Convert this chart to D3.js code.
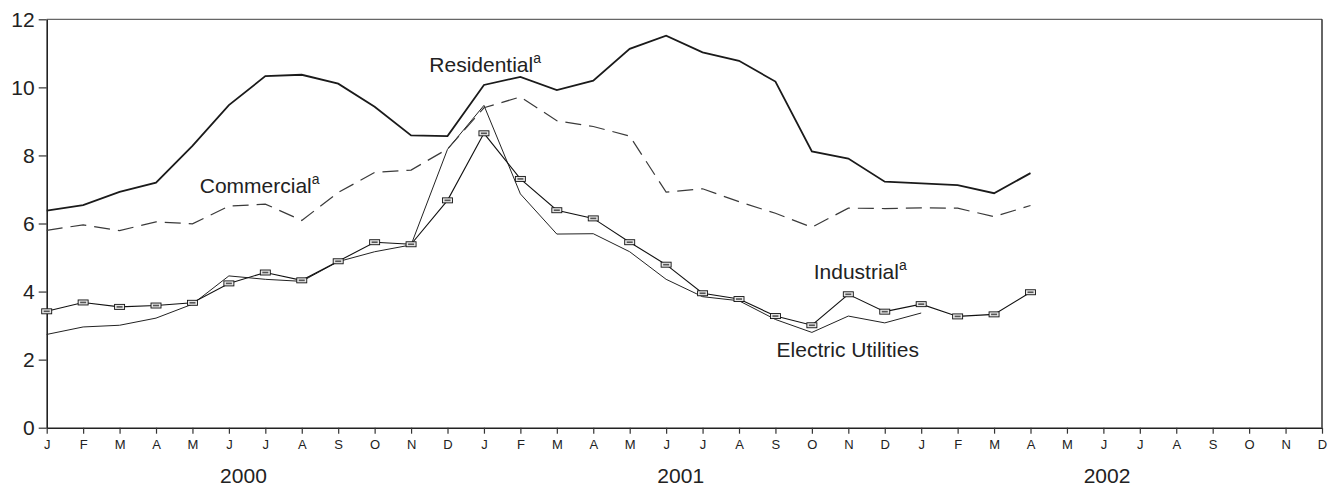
<!DOCTYPE html>
<html>
<head>
<meta charset="utf-8">
<script src="https://cdn.jsdelivr.net/npm/d3@7"></script>
<style>
  html, body { margin: 0; padding: 0; background: #fff; }
  svg { display: block; font-family: "Liberation Sans", Arial, Helvetica, sans-serif; }
</style>
</head>
<body>
<svg id="chart" width="1335" height="487"></svg>
<script>
// ---- data (month index 0 = Jan 2000) ----
const monthLabels = ["J","F","M","A","M","J","J","A","S","O","N","D",
                     "J","F","M","A","M","J","J","A","S","O","N","D",
                     "J","F","M","A","M","J","J","A","S","O","N","D"];
const yearLabels = ["2000", "2001", "2002"];
const yearPositions = [5.4, 17.4, 29.1];
const yTicks = [0, 2, 4, 6, 8, 10, 12];

const residential = [6.38, 6.54, 6.93, 7.20, 8.28, 9.48, 10.33, 10.37, 10.11, 9.43, 8.59, 8.57,
                     10.07, 10.31, 9.92, 10.20, 11.13, 11.52, 11.03, 10.78, 10.17, 8.12, 7.91, 7.23,
                     7.18, 7.13, 6.89, 7.48];
const commercial  = [5.80, 5.96, 5.79, 6.05, 5.99, 6.51, 6.57, 6.09, 6.91, 7.50, 7.57, 8.19,
                     9.40, 9.72, 9.02, 8.85, 8.57, 6.92, 7.02, 6.64, 6.30, 5.89, 6.45, 6.44,
                     6.46, 6.45, 6.20, 6.53];
const industrial  = [3.42, 3.68, 3.55, 3.59, 3.67, 4.24, 4.56, 4.33, 4.89, 5.45, 5.39, 6.68,
                     8.65, 7.31, 6.39, 6.15, 5.45, 4.79, 3.95, 3.78, 3.28, 3.01, 3.92, 3.41,
                     3.63, 3.27, 3.33, 3.98];
const electric    = [2.74, 2.96, 3.01, 3.22, 3.63, 4.46, 4.36, 4.30, 4.88, 5.17, 5.37, 8.18,
                     9.47, 6.87, 5.69, 5.70, 5.17, 4.36, 3.85, 3.73, 3.18, 2.80, 3.28, 3.08,
                     3.37];

const seriesLabels = [
  { name: "Residential", sup: "a", month: 10.5, value: 10.45 },
  { name: "Commercial", sup: "a", month: 4.2, value: 6.9 },
  { name: "Industrial", sup: "a", month: 21.05, value: 4.37 },
  { name: "Electric Utilities", sup: "", month: 20.03, value: 2.08 }
];

// ---- layout ----
const W = 1335, H = 487;
const margin = { top: 19.3, right: 13, bottom: 59.3, left: 46.7 };
const svg = d3.select("#chart");

const x = d3.scaleLinear().domain([0, 35]).range([margin.left, W - margin.right]);
const y = d3.scaleLinear().domain([0, 12]).range([H - margin.bottom, margin.top]);

// frame: top and right borders
svg.append("line")
  .attr("x1", x(0)).attr("x2", x(35)).attr("y1", y(12)).attr("y2", y(12))
  .attr("stroke", "#666").attr("stroke-width", 1.2);
svg.append("line")
  .attr("x1", x(35)).attr("x2", x(35)).attr("y1", y(12)).attr("y2", y(0))
  .attr("stroke", "#333").attr("stroke-width", 1.5);

// y axis
const yAxis = svg.append("g")
  .attr("transform", `translate(${margin.left},0)`)
  .call(d3.axisLeft(y).tickValues(yTicks).tickSize(8).tickSizeOuter(0).tickPadding(4));
yAxis.selectAll("text").attr("font-size", 21).attr("fill", "#222")
  .attr("font-family", "Liberation Sans, Arial, sans-serif");
yAxis.selectAll("line").attr("stroke", "#333").attr("stroke-width", 1.2);
yAxis.select(".domain").attr("stroke", "#222").attr("stroke-width", 1.6);

// x axis
const xAxis = svg.append("g")
  .attr("transform", `translate(0,${y(0)})`)
  .call(d3.axisBottom(x).tickValues(d3.range(36)).tickFormat(i => monthLabels[i])
        .tickSize(6).tickSizeOuter(0).tickPadding(6));
xAxis.selectAll("text").attr("font-size", 13).attr("fill", "#222")
  .attr("font-family", "Liberation Sans, Arial, sans-serif");
xAxis.selectAll("line").attr("stroke", "#333").attr("stroke-width", 1.2);
xAxis.select(".domain").attr("stroke", "#222").attr("stroke-width", 1.6);

// year labels
svg.append("g").selectAll("text").data(yearLabels).join("text")
  .attr("x", (d, i) => x(yearPositions[i]))
  .attr("y", 482.5)
  .attr("text-anchor", "middle")
  .attr("font-size", 21)
  .attr("fill", "#222")
  .text(d => d);

// lines
const line = d3.line().x((d, i) => x(i)).y(d => y(d));

svg.append("path").datum(electric)
  .attr("d", line).attr("fill", "none")
  .attr("stroke", "#222").attr("stroke-width", 1.0);

svg.append("path").datum(commercial)
  .attr("d", line).attr("fill", "none")
  .attr("stroke", "#3a3a3a").attr("stroke-width", 1.2)
  .attr("stroke-dasharray", "16,8");

svg.append("path").datum(industrial)
  .attr("d", line).attr("fill", "none")
  .attr("stroke", "#111").attr("stroke-width", 1.1);

svg.append("path").datum(residential)
  .attr("d", line).attr("fill", "none")
  .attr("stroke", "#1a1a1a").attr("stroke-width", 1.8);

// industrial markers
const mk = svg.append("g").selectAll("g").data(industrial).join("g")
  .attr("transform", (d, i) => `translate(${x(i)},${y(d)})`);
mk.append("rect")
  .attr("x", -5).attr("y", -2.5).attr("width", 10).attr("height", 5)
  .attr("fill", "#e6e6e6").attr("stroke", "#111").attr("stroke-width", 0.9);
mk.append("rect")
  .attr("x", -3).attr("y", -0.8).attr("width", 6).attr("height", 1.6)
  .attr("fill", "#555");

// series labels
const lbl = svg.append("g").selectAll("text").data(seriesLabels).join("text")
  .attr("x", d => x(d.month))
  .attr("y", d => y(d.value))
  .attr("font-size", 21)
  .attr("fill", "#222");
lbl.append("tspan").text(d => d.name);
lbl.filter(d => d.sup).append("tspan")
  .attr("font-size", 14).attr("dy", -9).text(d => d.sup);
</script>
</body>
</html>
